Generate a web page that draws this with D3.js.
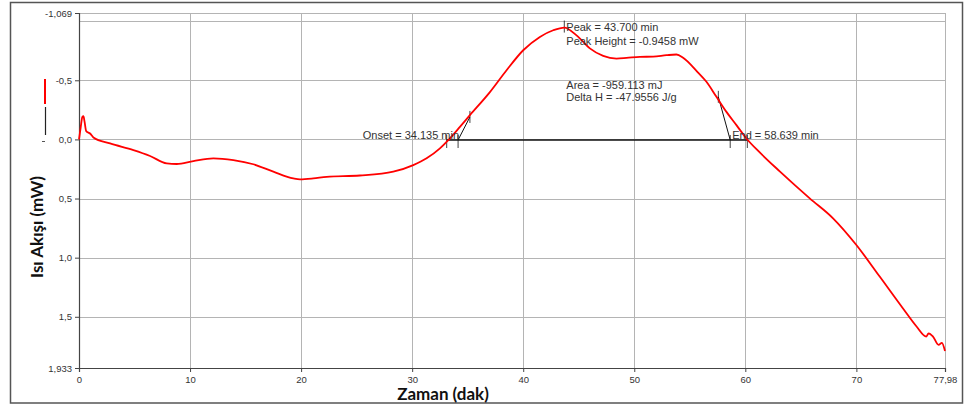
<!DOCTYPE html>
<html>
<head>
<meta charset="utf-8">
<script src="https://cdn.jsdelivr.net/npm/d3@7"></script>
<style>
  html, body { margin: 0; padding: 0; background: #ffffff; }
  svg { display: block; }
  .tick text { font-family: "Liberation Sans", Arial, sans-serif; font-size: 9.5px; fill: #333; }
  .ann { font-family: "Liberation Sans", Arial, sans-serif; font-size: 11px; fill: #333; }
  .title { font-family: Lato, "Open Sans", sans-serif; font-weight: bold; font-size: 17px; fill: #111; }
</style>
</head>
<body>
<svg id="chart" width="965" height="408"></svg>
<script>
// ---- data ----
const time = [0, 0.15, 0.3, 0.4, 0.5, 0.65, 1.0, 1.3, 2.8, 4.9, 6.4, 7.9, 8.8, 10.3, 12.1, 13.9, 15.7, 17.5, 19.3, 19.9, 21.1, 22.3, 25.3, 28.3, 30.1, 31.3, 32.5, 33.25, 34.3, 35.2, 37.0, 38.5, 40.0, 41.5, 42.7, 43.7, 44.8, 46.0, 47.2, 48.4, 49.3, 50.5, 51.7, 52.9, 53.8, 54.4, 55.6, 56.5, 57.4, 58.3, 59.2, 60.1, 61.3, 63.1, 65.8, 67.9, 70.0, 72.1, 74.2, 75.4, 76.3, 76.5, 76.9, 77.4, 77.7, 77.98];
const heatFlow = [0, -0.1, -0.19, -0.197, -0.15, -0.07, -0.05, -0.017, 0.034, 0.09, 0.14, 0.203, 0.208, 0.183, 0.16, 0.175, 0.21, 0.273, 0.33, 0.338, 0.33, 0.316, 0.305, 0.273, 0.217, 0.16, 0.076, 0.006, -0.106, -0.205, -0.40, -0.585, -0.754, -0.867, -0.923, -0.9458, -0.88, -0.77, -0.706, -0.684, -0.689, -0.698, -0.70, -0.712, -0.718, -0.69, -0.58, -0.487, -0.36, -0.233, -0.121, -0.008, 0.11, 0.27, 0.498, 0.667, 0.893, 1.16, 1.43, 1.58, 1.667, 1.64, 1.667, 1.737, 1.72, 1.79];

const xTickValues = [0, 10, 20, 30, 40, 50, 60, 70, 77.98];
const xTickLabels = ["0", "10", "20", "30", "40", "50", "60", "70", "77,98"];
const yTickValues = [-1.069, -0.5, 0, 0.5, 1.0, 1.5, 1.933];
const yTickLabels = ["-1,069", "-0,5", "0,0", "0,5", "1,0", "1,5", "1,933"];
const xGridValues = [10, 20, 30, 40, 50, 60, 70, 77.98];
const yGridValues = [-1.069, -1.0, -0.5, 0, 0.5, 1.0, 1.5];

// analysis annotation values
const onsetTime = 34.135, endTime = 58.639, peakTime = 43.700, peakHeight = -0.9458;
const limitStart = 33.11, limitEnd = 60.18, baselineLevel = 0.005;
const onsetTangentTop = [35.2, -0.19];
const endTangentTop = [57.57, -0.36];
const annTexts = {
  peak: "Peak = 43.700 min",
  peakHeight: "Peak Height = -0.9458 mW",
  area: "Area = -959.113 mJ",
  deltaH: "Delta H = -47.9556 J/g",
  onset: "Onset = 34.135 min",
  end: "End = 58.639 min"
};
const xTitle = "Zaman (dak)";
const yTitle = "Isı Akışı (mW)";

// ---- chart ----
const svg = d3.select("#chart");
const x = d3.scaleLinear().domain([0, 77.98]).range([79, 945]);
const y = d3.scaleLinear().domain([-1.069, 1.933]).range([13, 368]);

// outer frame
svg.append("rect").attr("x", 10.5).attr("y", 2.5).attr("width", 952).attr("height", 400.5)
  .attr("fill", "none").attr("stroke", "#555").attr("stroke-width", 1.5);

// gridlines
const grid = svg.append("g").attr("stroke", "#b4b4b4").attr("stroke-width", 1);
grid.selectAll("line.v").data(xGridValues).join("line")
  .attr("x1", d => Math.round(x(d)) + 0.5).attr("x2", d => Math.round(x(d)) + 0.5)
  .attr("y1", y(-1.069)).attr("y2", y(1.933));
grid.selectAll("line.h").data(yGridValues).join("line")
  .attr("x1", x(0)).attr("x2", x(77.98))
  .attr("y1", d => Math.round(y(d)) + 0.5).attr("y2", d => Math.round(y(d)) + 0.5);

// axes
const yAxis = d3.axisLeft(y).tickValues(yTickValues)
  .tickFormat((d, i) => yTickLabels[i]).tickSize(4).tickPadding(3);
const gy = svg.append("g").attr("transform", `translate(${x(0)},0)`).call(yAxis);
const xAxis = d3.axisBottom(x).tickValues(xTickValues)
  .tickFormat((d, i) => xTickLabels[i]).tickSize(4).tickPadding(4);
const gx = svg.append("g").attr("transform", `translate(0,${y(1.933)})`).call(xAxis);
[gx, gy].forEach(g => {
  g.select(".domain").attr("stroke", "#444").attr("stroke-width", 1.2);
  g.selectAll(".tick line").attr("stroke", "#444");
});

// annotation: baseline and limits
const ann = svg.append("g").attr("stroke", "#111").attr("fill", "none");
ann.append("line").attr("x1", x(limitStart)).attr("x2", x(limitEnd))
  .attr("y1", y(baselineLevel)).attr("y2", y(baselineLevel)).attr("stroke-width", 1.6);
[limitStart, onsetTime, endTime, limitEnd].forEach(t => {
  ann.append("line").attr("x1", x(t)).attr("x2", x(t))
    .attr("y1", y(baselineLevel) - 5).attr("y2", y(baselineLevel) + 8).attr("stroke-width", 0.8);
});
// tangents
ann.append("line").attr("x1", x(onsetTime)).attr("y1", y(baselineLevel))
  .attr("x2", x(onsetTangentTop[0])).attr("y2", y(onsetTangentTop[1])).attr("stroke-width", 1);
ann.append("line").attr("x1", x(onsetTangentTop[0])).attr("x2", x(onsetTangentTop[0]))
  .attr("y1", y(onsetTangentTop[1]) - 6).attr("y2", y(onsetTangentTop[1]) + 6).attr("stroke-width", 0.8);
ann.append("line").attr("x1", x(endTime)).attr("y1", y(baselineLevel))
  .attr("x2", x(endTangentTop[0])).attr("y2", y(endTangentTop[1])).attr("stroke-width", 1);
ann.append("line").attr("x1", x(endTangentTop[0])).attr("x2", x(endTangentTop[0]))
  .attr("y1", y(endTangentTop[1]) - 6).attr("y2", y(endTangentTop[1]) + 6).attr("stroke-width", 0.8);
// peak marker
ann.append("line").attr("x1", x(peakTime)).attr("x2", x(peakTime))
  .attr("y1", y(peakHeight) - 7).attr("y2", y(peakHeight) + 5).attr("stroke-width", 0.8);

// data curve
const pts = time.map((t, i) => [t, heatFlow[i]]);
svg.append("path").datum(pts)
  .attr("fill", "none").attr("stroke", "#ff0000").attr("stroke-width", 1.8)
  .attr("d", d3.line().x(d => x(d[0])).y(d => y(d[1])).curve(d3.curveMonotoneX));

// annotation texts
const tx = svg.append("g");
tx.append("text").attr("class", "ann").attr("x", x(peakTime) + 2).attr("y", 31).text(annTexts.peak);
tx.append("text").attr("class", "ann").attr("x", x(peakTime) + 2).attr("y", 45).text(annTexts.peakHeight);
tx.append("text").attr("class", "ann").attr("x", x(peakTime) + 2).attr("y", 89).text(annTexts.area);
tx.append("text").attr("class", "ann").attr("x", x(peakTime) + 2).attr("y", 101).text(annTexts.deltaH);
tx.append("text").attr("class", "ann").attr("x", x(onsetTime) + 1).attr("y", 139)
  .attr("text-anchor", "end").text(annTexts.onset);
tx.append("text").attr("class", "ann").attr("x", x(endTime) + 2).attr("y", 139).text(annTexts.end);

// legend artifact at left
svg.append("line").attr("x1", 45).attr("x2", 45).attr("y1", 79).attr("y2", 104)
  .attr("stroke", "#ff0000").attr("stroke-width", 2);
svg.append("line").attr("x1", 45.5).attr("x2", 45.5).attr("y1", 107).attr("y2", 135)
  .attr("stroke", "#222").attr("stroke-width", 1.2);
svg.append("line").attr("x1", 42).attr("x2", 45).attr("y1", 141.5).attr("y2", 141.5)
  .attr("stroke", "#555").attr("stroke-width", 1);

// axis titles
svg.append("text").attr("class", "title").attr("x", 443).attr("y", 400)
  .attr("text-anchor", "middle").text(xTitle);
svg.append("text").attr("class", "title").attr("text-anchor", "middle")
  .attr("transform", "translate(43,227) rotate(-90)").text(yTitle);
</script>
</body>
</html>
